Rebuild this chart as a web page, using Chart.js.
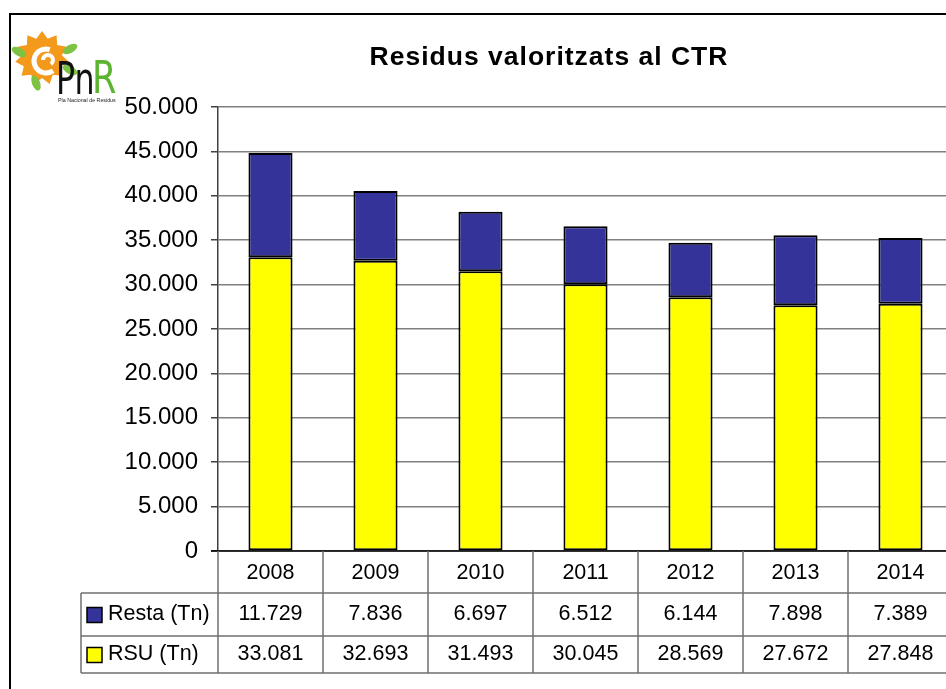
<!DOCTYPE html>
<html><head><meta charset="utf-8">
<script src="https://cdn.jsdelivr.net/npm/chart.js@4"></script>
<style>
html,body{margin:0;padding:0;background:#fff;overflow:hidden;width:946px;height:689px}
#wrap{position:absolute;left:0;top:0;width:960px;height:689px}
</style>
</head><body><div id="wrap"><canvas id="c" width="960" height="689"></canvas></div>
<script>
const years = ['2008', '2009', '2010', '2011', '2012', '2013', '2014'];
const resta = [11729, 7836, 6697, 6512, 6144, 7898, 7389];
const rsu = [33081, 32693, 31493, 30045, 28569, 27672, 27848];
const seriesNames = ['Resta (Tn)', 'RSU (Tn)'];
const titleText = 'Residus valoritzats al CTR';
const logoText = 'Pla Nacional de Residus';

const fmt = v => Math.round(v).toString().replace(/\B(?=(\d{3})+(?!\d))/g, '.');
const FONT = '"Liberation Sans", Arial, sans-serif';

const decor = {
  id: 'decor',
  beforeDraw(chart) {
    const ctx = chart.ctx;
    ctx.save();
    ctx.fillStyle = '#fff';
    ctx.fillRect(0, 0, chart.width, chart.height);
    // outer border
    ctx.strokeStyle = '#000';
    ctx.lineWidth = 2;
    ctx.beginPath();
    ctx.moveTo(10, 700); ctx.lineTo(10, 14); ctx.lineTo(chart.width + 5, 14);
    ctx.stroke();
    // logo: sun
    const cx = 42, cy = 58;
    ctx.fillStyle = '#f39a1c';
    ctx.beginPath();
    const n = 11;
    for (let i = 0; i < n * 2; i++) {
      const a = -Math.PI / 2 + i * Math.PI / n;
      const r = i % 2 === 0 ? 27 : 20;
      const x = cx + r * Math.cos(a), y = cy + r * Math.sin(a);
      if (i === 0) ctx.moveTo(x, y); else ctx.lineTo(x, y);
    }
    ctx.closePath(); ctx.fill();
    ctx.strokeStyle = '#fff'; ctx.lineWidth = 5;
    ctx.beginPath();
    ctx.arc(cx + 4, cy + 3, 12, Math.PI * 0.3, Math.PI * 1.6);
    ctx.stroke();
    ctx.lineWidth = 4;
    ctx.beginPath();
    ctx.arc(cx + 6, cy + 2, 5, Math.PI * 1.0, Math.PI * 2.3);
    ctx.stroke();
    // leaves
    ctx.fillStyle = '#7dc242';
    const leaf = (x, y, rot) => {
      ctx.save(); ctx.translate(x, y); ctx.rotate(rot);
      ctx.beginPath(); ctx.ellipse(0, 0, 8, 4, 0, 0, Math.PI * 2); ctx.fill();
      ctx.restore();
    };
    leaf(19, 52, 0.5); leaf(70, 49, -0.5); leaf(36, 83, 1.2); leaf(70, 70, 0.5);
    // PnR text
    ctx.textBaseline = 'alphabetic';
    ctx.textAlign = 'left';
    ctx.save();
    ctx.translate(56, 94);
    ctx.scale(0.72, 1);
    ctx.fillStyle = '#111';
    ctx.font = '44px "DejaVu Sans", sans-serif';
    ctx.fillText('Pn', 0, 0);
    ctx.restore();
    ctx.save();
    ctx.translate(92, 93);
    ctx.scale(0.8, 1);
    ctx.fillStyle = '#5cb531';
    ctx.font = '44px "DejaVu Sans", sans-serif';
    ctx.fillText('R', 0, 0);
    ctx.restore();
    ctx.fillStyle = '#222';
    ctx.font = '5.3px ' + FONT;
    ctx.fillText(logoText, 58, 102);
    // title
    ctx.fillStyle = '#000';
    ctx.font = 'bold 26.5px ' + FONT;
    ctx.letterSpacing = '1px';
    ctx.textAlign = 'center';
    ctx.textBaseline = 'alphabetic';
    ctx.fillText(titleText, 549, 65);
    ctx.restore();
  },
  afterDraw(chart) {
    const ctx = chart.ctx;
    const xs = chart.scales.x, ys = chart.scales.y;
    const colW = xs.getPixelForValue(1) - xs.getPixelForValue(0);
    const left = xs.getPixelForValue(0) - colW / 2;
    const right = xs.getPixelForValue(years.length - 1) + colW / 2;
    const y0 = ys.getPixelForValue(0);
    const r1 = y0 + 42, r2 = y0 + 85, r3 = y0 + 122;
    const tabL = 81;
    ctx.save();
    // zero line
    ctx.strokeStyle = '#000'; ctx.lineWidth = 1.5;
    ctx.beginPath(); ctx.moveTo(left - 7, y0); ctx.lineTo(right, y0); ctx.stroke();
    // table grid
    ctx.strokeStyle = '#707070'; ctx.lineWidth = 1.5;
    ctx.beginPath();
    [r1, r2, r3].forEach(y => { ctx.moveTo(tabL, y); ctx.lineTo(right, y); });
    ctx.moveTo(tabL, r1); ctx.lineTo(tabL, r3);
    for (let i = 0; i <= years.length; i++) {
      const x = left + i * colW;
      ctx.moveTo(x, y0); ctx.lineTo(x, r3);
    }
    ctx.stroke();
    // texts
    ctx.fillStyle = '#000';
    ctx.font = '21.5px ' + FONT;
    ctx.textAlign = 'center'; ctx.textBaseline = 'middle';
    years.forEach((yr, i) => {
      const x = xs.getPixelForValue(i);
      ctx.fillText(yr, x, (y0 + r1) / 2 + 1);
      ctx.fillText(fmt(resta[i]), x, (r1 + r2) / 2);
      ctx.fillText(fmt(rsu[i]), x, (r2 + r3) / 2);
    });
    // legend keys
    const keys = [[chart.data.datasets[1], (r1 + r2) / 2], [chart.data.datasets[0], (r2 + r3) / 2]];
    ctx.textAlign = 'left';
    keys.forEach(([ds, y]) => {
      ctx.fillStyle = ds.backgroundColor;
      ctx.fillRect(87, y - 7, 15, 15);
      ctx.strokeStyle = '#000'; ctx.lineWidth = 1.5;
      ctx.strokeRect(87, y - 7, 15, 15);
      ctx.fillStyle = '#000';
      ctx.fillText(ds.label, 108, y);
    });
    ctx.restore();
  }
};

new Chart(document.getElementById('c'), {
  type: 'bar',
  data: {
    labels: years,
    datasets: [
      { label: seriesNames[1], data: rsu, backgroundColor: '#ffff00', borderColor: '#000', borderWidth: 2, borderSkipped: false },
      { label: seriesNames[0], data: resta, backgroundColor: '#333399', borderColor: '#000', borderWidth: 2, borderSkipped: false }
    ]
  },
  options: {
    responsive: false,
    devicePixelRatio: 1,
    animation: false,
    layout: { padding: { left: 0, right: 7, top: 107, bottom: 138 } },
    datasets: { bar: { barPercentage: 0.42, categoryPercentage: 1 } },
    plugins: { legend: { display: false }, title: { display: false }, tooltip: { enabled: false } },
    scales: {
      x: {
        stacked: true,
        grid: { display: false, drawTicks: false },
        border: { display: false },
        ticks: { display: false }
      },
      y: {
        stacked: true,
        min: 0, max: 50000,
        afterFit(s) { s.width = 218; },
        ticks: { stepSize: 5000, callback: v => fmt(v), color: '#000', font: { family: FONT, size: 24 }, padding: 13 },
        grid: { color: '#808080', lineWidth: 1.5, tickLength: 7, tickColor: '#404040' },
        border: { color: '#404040', width: 1.5 }
      }
    }
  },
  plugins: [decor]
});
</script>
</body></html>
